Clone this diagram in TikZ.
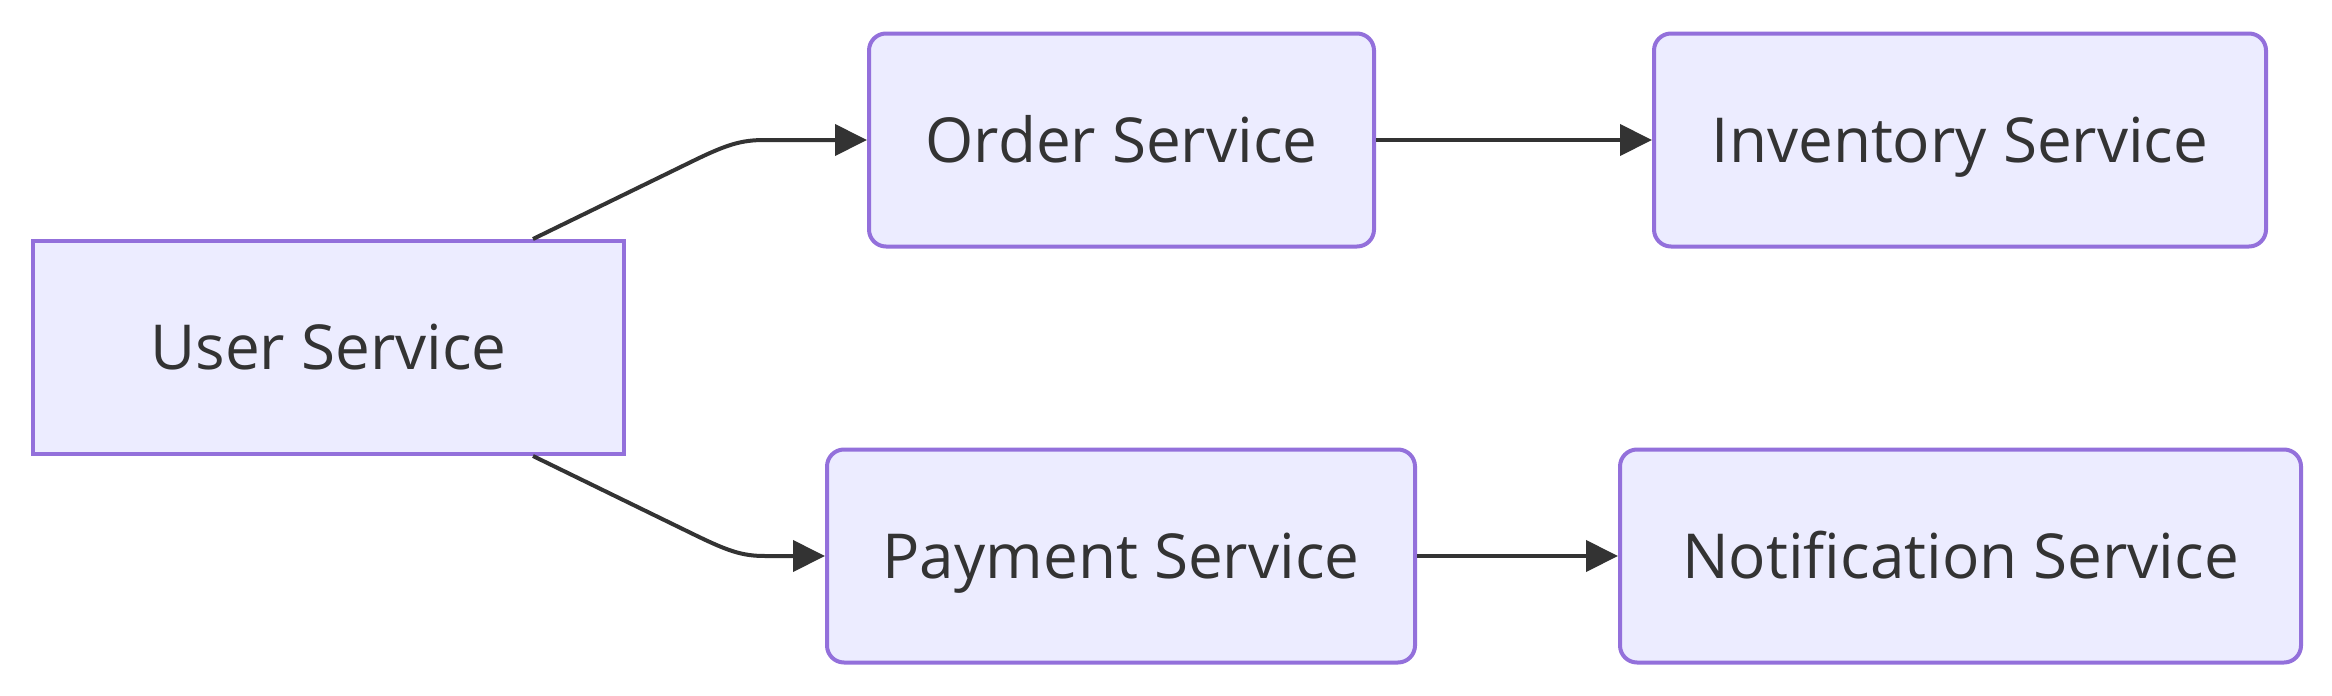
\documentclass[tikz,border=0pt]{standalone}
\usepackage{fontspec}
\setmainfont{Open Sans}
\usetikzlibrary{arrows.meta}
\definecolor{boxfill}{HTML}{ECECFF}
\definecolor{boxline}{HTML}{9370DB}
\definecolor{ink}{HTML}{333333}
\begin{document}
\begin{tikzpicture}[x=1pt,y=-1pt,
  svc/.style={draw=boxline, fill=boxfill, line width=4pt, text=ink,
    font=\fontsize{62}{70}\selectfont, text height=44pt, text depth=0pt,
    inner sep=0pt, minimum height=213pt, align=center},
  rsvc/.style={svc, rounded corners=17pt},
  conn/.style={draw=ink, line width=4pt, -{Triangle[length=32pt,width=31pt]}}]
\useasboundingbox (0,0) rectangle (2332,696);
\fill[white] (0,0) rectangle (2332,696);
\node[svc, minimum width=591pt] (user) at (328.5,347.5) {User Service};
\node[rsvc, minimum width=505pt] (order) at (1121.5,140) {Order Service};
\node[rsvc, minimum width=612pt] (inv) at (1960,140) {Inventory Service};
\node[rsvc, minimum width=588pt] (pay) at (1121,556) {Payment Service};
\node[rsvc, minimum width=681pt] (notif) at (1960.5,556) {Notification Service};
\coordinate (ut) at ([xshift=204.5pt]user.north);
\coordinate (ub) at ([xshift=204.5pt]user.south);
\draw[conn] (ut) -- (695,160) .. controls (728,144) and (742,140) .. (765,140) -- (order.west);
\draw[conn] (ub) -- (695,535) .. controls (728,551) and (742,556) .. (765,556) -- (pay.west);
\draw[conn] (order.east) -- (inv.west);
\draw[conn] (pay.east) -- (notif.west);
\end{tikzpicture}
\end{document}
